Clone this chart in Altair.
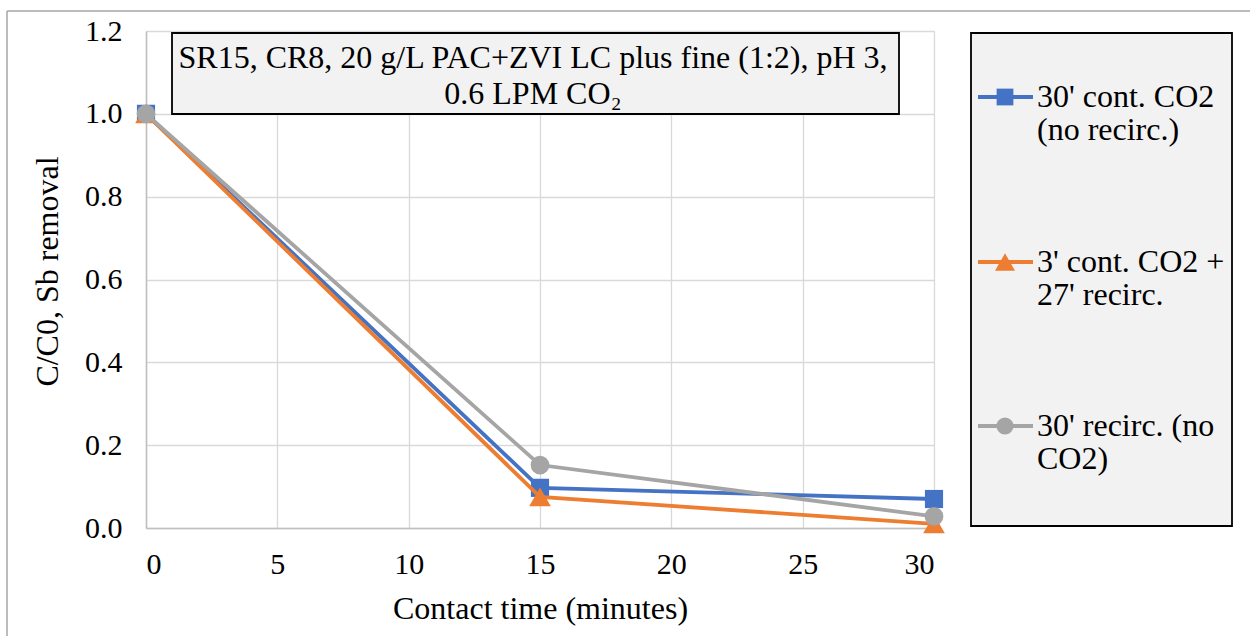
import altair as alt
import pandas as pd

# ---- data ----
times = [0, 15, 30]
series_names = ["30' cont. CO2 (no recirc.)", "3' cont. CO2 + 27' recirc.", "30' recirc. (no CO2)"]
blue_vals = [1.0, 0.097, 0.07]
orange_vals = [1.0, 0.075, 0.01]
gray_vals = [1.0, 0.152, 0.028]
legend_line1 = ["30' cont. CO2", "3' cont. CO2 +", "30' recirc. (no"]
legend_line2 = ["(no recirc.)", "27' recirc.", "CO2)"]
x_ticks = [0, 5, 10, 15, 20, 25, 30]
y_ticks = [0.0, 0.2, 0.4, 0.6, 0.8, 1.0, 1.2]
title_line1 = "SR15, CR8, 20 g/L PAC+ZVI LC plus fine (1:2), pH 3,"
title_line2 = "0.6 LPM CO\u2082"
x_title = "Contact time (minutes)"
y_title = "C/C0, Sb removal"

colors = ["#4472C4", "#ED7D31", "#A5A5A5"]
shapes = ["square", "triangle-up", "circle"]
sizes = [330, 470, 350]
values = [blue_vals, orange_vals, gray_vals]

FONT = "Liberation Serif"
W, H = 788, 497
L, T = 146, 31

one = pd.DataFrame({"a": [0]})

x_enc = alt.X("t:Q", scale=alt.Scale(domain=[0, 30], nice=False),
              axis=alt.Axis(values=x_ticks, title=x_title, grid=True, ticks=False,
                            labelFontSize=30, labelPadding=21, titleFontSize=32,
                            titleX=W / 2, titleY=80, titleBaseline="middle",
                            titleFontWeight="normal", domainColor="#bfbfbf",
                            domainWidth=1.5, gridColor="#d9d9d9", gridWidth=1.3,
                            labelFont=FONT, titleFont=FONT, labelColor="black",
                            titleColor="black"))
y_enc = alt.Y("v:Q", scale=alt.Scale(domain=[0, 1.2], nice=False),
              axis=alt.Axis(values=y_ticks, format=".1f", title=y_title, grid=True,
                            ticks=False, labelFontSize=30, labelPadding=24,
                            titleFontSize=32, titleAngle=-90, titleX=-99, titleY=240,
                            titleAlign="center", titleBaseline="middle",
                            titleFontWeight="normal", domainColor="#bfbfbf",
                            domainWidth=1.5, gridColor="#d9d9d9", gridWidth=1.3,
                            labelFont=FONT, titleFont=FONT, labelColor="black",
                            titleColor="black"))

layers = []

# outer border (top & left visible)
layers.append(alt.Chart(one).mark_rule(color="#a6a6a6", strokeWidth=1.5).encode(
    x=alt.value(-139), x2=alt.value(1250 - L), y=alt.value(-20)))
layers.append(alt.Chart(one).mark_rule(color="#a6a6a6", strokeWidth=1.5).encode(
    x=alt.value(-139), y=alt.value(-20), y2=alt.value(636 - T)))

# series
for i, name in enumerate(series_names):
    df = pd.DataFrame({"t": times, "v": values[i], "s": name})
    base = alt.Chart(df)
    line = base.mark_line(color=colors[i], strokeWidth=3.8).encode(x=x_enc, y=y_enc)
    pts = base.mark_point(filled=True, shape=shapes[i], size=sizes[i], color=colors[i],
                          opacity=1).encode(x=x_enc, y=y_enc)
    layers += [line, pts]

# title box
layers.append(alt.Chart(one).mark_rect(fill="#f2f2f2", stroke="black", strokeWidth=1.8).encode(
    x=alt.value(26), x2=alt.value(753), y=alt.value(2), y2=alt.value(83)))
layers.append(alt.Chart(one).mark_text(font=FONT, fontSize=32, color="black",
                                       align="center", baseline="middle").encode(
    x=alt.value(387), y=alt.value(27), text=alt.value(title_line1)))
layers.append(alt.Chart(one).mark_text(font=FONT, fontSize=32, color="black",
                                       align="center", baseline="middle").encode(
    x=alt.value(387), y=alt.value(63), text=alt.value(title_line2)))

# legend
layers.append(alt.Chart(one).mark_rect(fill="#f2f2f2", stroke="black", strokeWidth=1.8).encode(
    x=alt.value(825), x2=alt.value(1086), y=alt.value(2), y2=alt.value(495)))
leg_y = [66, 231, 395]
for i in range(len(series_names)):
    d = pd.DataFrame({"x1": [832], "x2": [887], "xm": [859], "xt": [891],
                      "y": [leg_y[i]], "y2": [leg_y[i] + 33],
                      "l1": [legend_line1[i]], "l2": [legend_line2[i]]})
    b = alt.Chart(d)
    layers.append(b.mark_rule(color=colors[i], strokeWidth=3.8).encode(
        x=alt.X("x1:Q", scale=None), x2="x2:Q", y=alt.Y("y:Q", scale=None)))
    layers.append(b.mark_point(filled=True, shape=shapes[i], size=sizes[i] * 0.85,
                               color=colors[i], opacity=1).encode(
        x=alt.X("xm:Q", scale=None), y=alt.Y("y:Q", scale=None)))
    layers.append(b.mark_text(font=FONT, fontSize=32, color="black", align="left",
                              baseline="middle").encode(
        x=alt.X("xt:Q", scale=None), y=alt.Y("y:Q", scale=None), text="l1:N"))
    layers.append(b.mark_text(font=FONT, fontSize=32, color="black", align="left",
                              baseline="middle").encode(
        x=alt.X("xt:Q", scale=None), y=alt.Y("y2:Q", scale=None), text="l2:N"))

chart = alt.layer(*layers).properties(
    width=W, height=H,
    autosize=alt.AutoSizeParams(type="none"),
    padding={"left": L, "top": T, "right": 1250 - L - W, "bottom": 636 - T - H},
    background="white",
).configure_view(stroke="black", strokeWidth=1.8
).configure(font=FONT)

chart.save("out.html", embed_options={"renderer": "svg", "actions": False})
